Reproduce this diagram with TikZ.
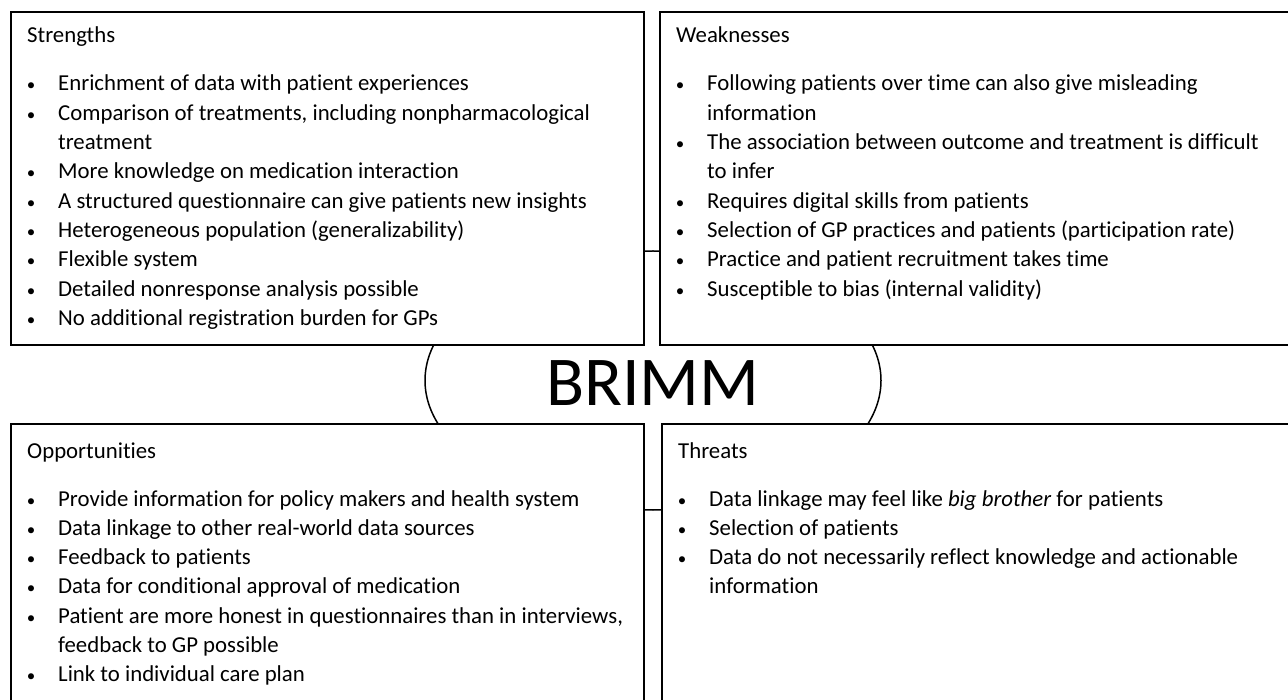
\documentclass[tikz,border=0pt]{standalone}
\usepackage{fontspec}
\setmainfont{Carlito}[Ligatures=NoCommon]
\usetikzlibrary{shapes.geometric}
\newcommand\bl{\llap{\makebox[8pt][c]{\fontsize{17}{20}\selectfont\textbullet}\hspace{23pt}}}
\begin{document}
\begin{tikzpicture}[x=1pt,y=-1pt,
  box/.style={draw, line width=2pt, fill=white, anchor=north west, inner sep=0pt},
  txt/.style={anchor=base west, inner sep=0pt, font=\fontsize{22.8}{29.3}\selectfont},
  oval/.style={draw, ellipse, line width=1.5pt, inner sep=0pt, minimum width=456pt, minimum height=259pt}]
\useasboundingbox (0,0) rectangle (1288,700);
% central ellipse (behind the boxes)
\node[oval] (E) at (653,380.5) {};
% four boxes
\node[box, minimum width=633pt, minimum height=333.3pt] (S) at (10,10.7) {};
\node[box, minimum width=650pt, minimum height=333.3pt] (W) at (659,10.7) {};
\node[box, minimum width=633pt, minimum height=300pt] (O) at (10,423) {};
\node[box, minimum width=650pt, minimum height=300pt] (T) at (661,423) {};
% centre label
\node[anchor=base, inner sep=0pt, font=\fontsize{70}{84}\selectfont] (B) at (652.75,406) {BRIMM};
% titles
\node[txt] (St) at (27,43) {Strengths};
\node[txt] (Wt) at (676,43) {Weaknesses};
\node[txt] (Ot) at (27,458) {Opportunities};
\node[txt] (Tt) at (678,458) {Threats};
% Strengths
\foreach \t [count=\i] in {
  {\bl Enrichment of data with patient experiences},
  {\bl Comparison of treatments, including nonpharmacological},
  {treatment},
  {\bl More knowledge on medication interaction},
  {\bl A structured questionnaire can give patients new insights},
  {\bl Heterogeneous population (generalizability)},
  {\bl Flexible system},
  {\bl Detailed nonresponse analysis possible},
  {\bl No additional registration burden for GPs}}
  \node[txt] (s\i) at (58,{91+(\i-1)*29.3}) {\t};
% Weaknesses
\foreach \t [count=\i] in {
  {\bl Following patients over time can also give misleading},
  {information},
  {\bl The association between outcome and treatment is difficult},
  {to infer},
  {\bl Requires digital skills from patients},
  {\bl Selection of GP practices and patients (participation rate)},
  {\bl Practice and patient recruitment takes time},
  {\bl Susceptible to bias (internal validity)}}
  \node[txt] (w\i) at (707,{91+(\i-1)*29.3}) {\t};
% Opportunities
\foreach \t [count=\i] in {
  {\bl Provide information for policy makers and health system},
  {\bl Data linkage to other real-world data sources},
  {\bl Feedback to patients},
  {\bl Data for conditional approval of medication},
  {\bl Patient are more honest in questionnaires than in interviews,},
  {feedback to GP possible},
  {\bl Link to individual care plan}}
  \node[txt] (o\i) at (58,{506+(\i-1)*29.3}) {\t};
% Threats
\foreach \t [count=\i] in {
  {\bl Data linkage may feel like \textit{big brother} for patients},
  {\bl Selection of patients},
  {\bl Data do not necessarily reflect knowledge and actionable},
  {information}}
  \node[txt] (t\i) at (709,{506+(\i-1)*29.3}) {\t};
\end{tikzpicture}
\end{document}
